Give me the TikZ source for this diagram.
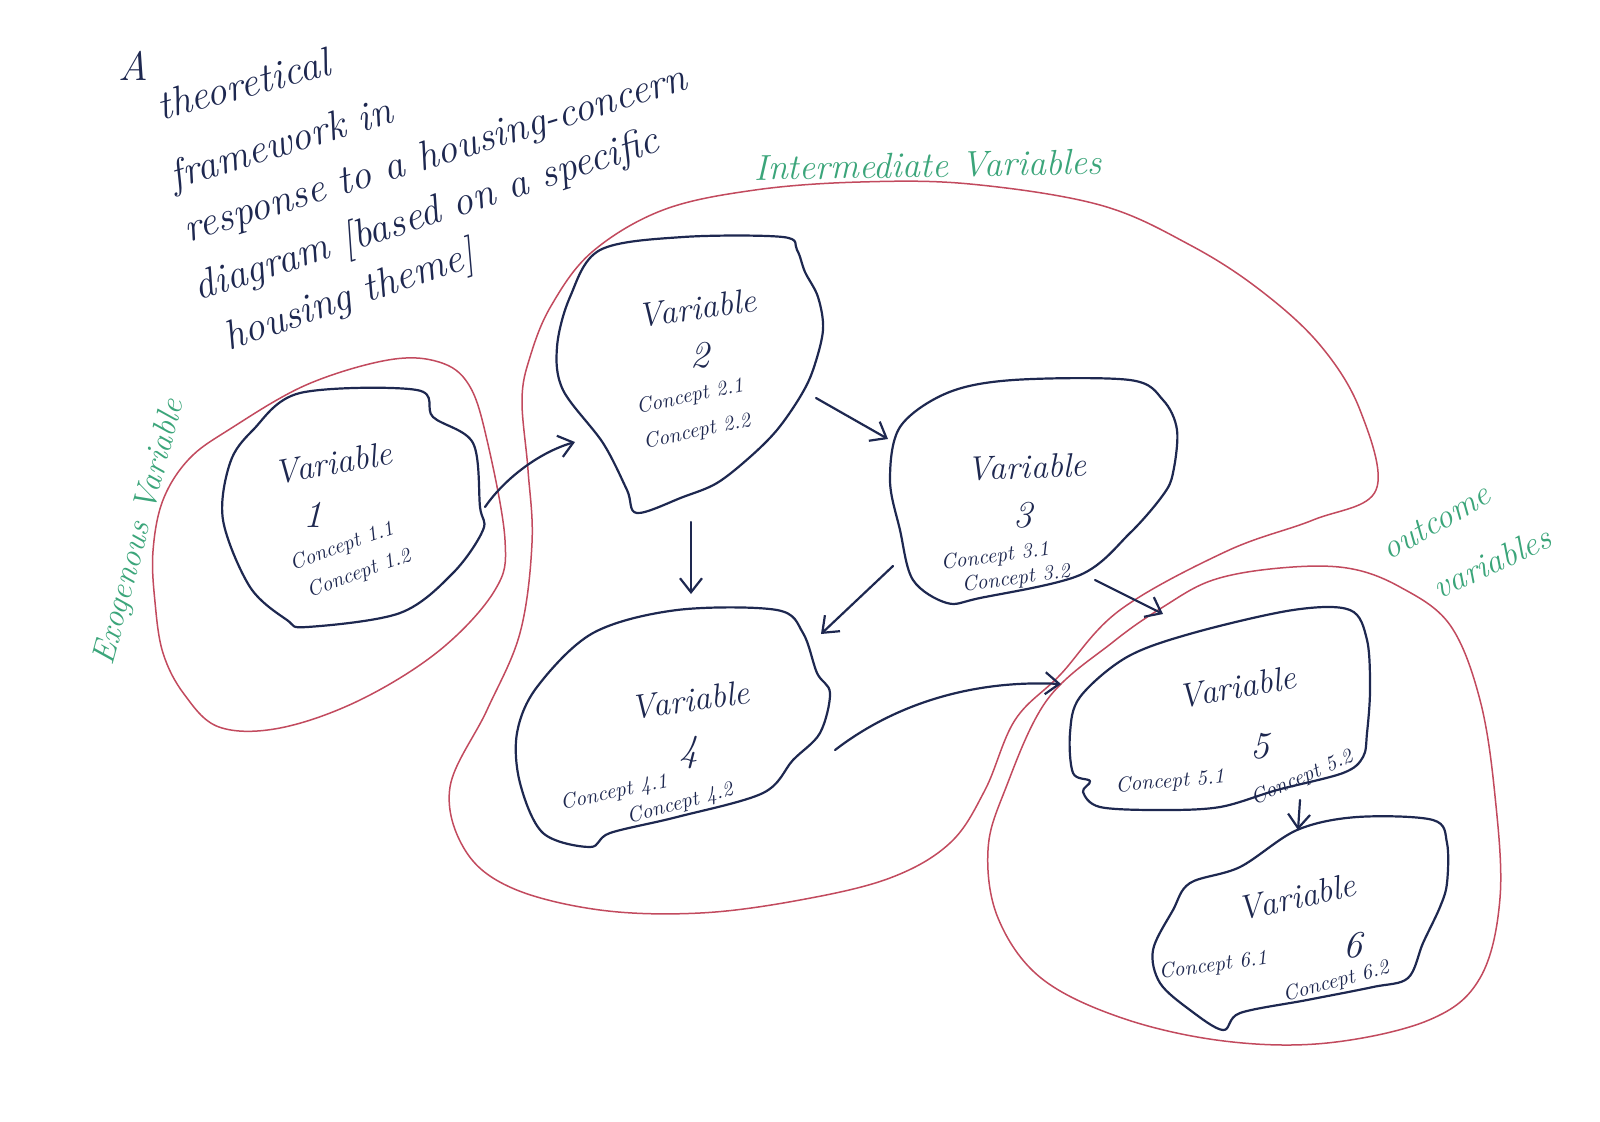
\documentclass[tikz,border=0pt]{standalone}
\usetikzlibrary{arrows.meta}
\definecolor{inkblue}{HTML}{1E2850}
\definecolor{redink}{HTML}{C24A5E}
\definecolor{greenink}{HTML}{3BA57A}
\begin{document}
\begin{tikzpicture}[x=0.5pt,y=-0.5pt,
  blob/.style={draw=inkblue, line width=1.1pt, line join=round},
  group/.style={draw=redink, line width=0.75pt, line join=round},
  arr/.style={draw=inkblue, line width=1.1pt, line cap=round, -{Straight Barb[length=7pt,width=11pt,line width=1.1pt]}},
  vname/.style={text=inkblue, font=\fontsize{17}{20}\selectfont\itshape, inner sep=0pt},
  vnum/.style={text=inkblue, font=\fontsize{19}{22}\selectfont\itshape, inner sep=0pt},
  vconc/.style={text=inkblue, font=\fontsize{10.5}{12}\selectfont\itshape, inner sep=0pt},
  ttl/.style={text=inkblue, font=\fontsize{20.5}{24}\selectfont\itshape, inner sep=0pt},
  grp/.style={text=greenink, font=\fontsize{18}{22}\selectfont\itshape, inner sep=0pt}
]
\useasboundingbox[fill=white] (0,0) rectangle (1600,1121);

% ---------- title ----------
\node[ttl] (tA) at (133,66) {A};
\node[ttl, rotate=15] (t1) at (243,84) {theoretical};
\node[ttl, rotate=17] (t2) at (282,146) {framework in};
\node[ttl, rotate=17] (t3) at (436,156) {response to a housing-concern};
\node[ttl, rotate=18] (t4) at (427,216) {diagram [based on a specific};
\node[ttl, rotate=19] (t5) at (350,298) {housing theme]};

% ---------- group outlines (red) ----------
\draw[group] plot[smooth cycle, tension=0.6] coordinates {
  (219,727) (184,694) (163,653) (155,602) (153,551) (163,500) (189,459)
  (230,429) (306,385) (388,360) (439,362) (469,385) (487,440) (505,540)
  (495,590) (440,650) (360,700) (280,728)};
\draw[group] plot[smooth cycle, tension=0.6] coordinates {
  (522,400) (528,470) (532,543) (520,633) (487,710) (450,787) (465,850)
  (512,888) (600,910) (700,913) (800,900) (890,878) (950,843) (985,790)
  (1015,720) (1060,675) (1120,610) (1227,551) (1313,520) (1376,490)
  (1360,410) (1320,345) (1260,290) (1190,245) (1100,205) (970,184)
  (860,182) (755,190) (663,210) (592,252) (551,306) (530,357)};
\draw[group] plot[smooth cycle, tension=0.6] coordinates {
  (1400,587) (1347,568) (1280,568) (1213,580) (1163,607) (1113,642)
  (1047,700) (1005,790) (988,850) (998,918) (1041,978) (1122,1018)
  (1224,1041) (1327,1043) (1429,1020) (1480,978) (1500,898) (1495,796)
  (1480,700) (1450,625)};

% ---------- group labels (green) ----------
\node[grp, rotate=1] (gI) at (928,165) {Intermediate Variables};
\node[grp, rotate=75, font=\fontsize{16.5}{20}\selectfont\itshape] (gE) at (140,532) {Exogenous Variable};
\node[grp, rotate=30, font=\fontsize{17}{20}\selectfont\itshape] (gO1) at (1436,522) {outcome};
\node[grp, rotate=25, font=\fontsize{17}{20}\selectfont\itshape] (gO2) at (1492,562) {variables};

% ---------- variable blobs (blue) ----------
% V1
\draw[blob] plot[smooth cycle, tension=0.55] coordinates {
  (300,393) (417,390) (433,417) (473,443) (480,507) (483,530) (453,573)
  (400,613) (307,627) (287,620) (250,587) (223,520) (230,463) (253,430)};
% V2
\draw[blob] plot[smooth cycle, tension=0.55] coordinates {
  (600,250) (683,237) (783,237) (797,250) (805,272) (818,297) (823,330)
  (813,370) (800,397) (777,430) (750,457) (717,483) (683,497) (637,513)
  (627,490) (603,443) (563,390) (557,347) (570,297)};
% V3
\draw[blob] plot[smooth cycle, tension=0.55] coordinates {
  (900,427) (947,393) (1013,380) (1130,380) (1163,400) (1177,430)
  (1173,473) (1163,495) (1130,533) (1080,575) (980,598) (947,603)
  (913,580) (900,530) (890,480)};
% V4
\draw[blob] plot[smooth cycle, tension=0.55] coordinates {
  (537,687) (593,633) (677,610) (777,610) (803,633) (817,673) (830,693)
  (820,733) (793,760) (763,793) (677,817) (610,833) (590,847) (543,833)
  (520,783) (517,733)};
% V5
\draw[blob] plot[smooth cycle, tension=0.55] coordinates {
  (1080,697) (1127,657) (1193,633) (1293,610) (1350,610) (1367,640)
  (1370,690) (1367,733) (1363,757) (1343,773) (1277,790) (1220,807)
  (1160,810) (1100,807) (1083,792) (1090,781) (1073,773) (1070,733)};
% V6
\draw[blob] plot[smooth cycle, tension=0.55] coordinates {
  (1297,830) (1357,817) (1433,820) (1447,843) (1447,883) (1440,907)
  (1423,943) (1408,978) (1373,987) (1307,1000) (1240,1013) (1223,1030)
  (1190,1010) (1160,983) (1153,950) (1173,910) (1190,883) (1240,867)};

% ---------- variable texts ----------
\node[vname, rotate=10] (v1a) at (333,463) {Variable};
\node[vnum] (v1b) at (313,515) {1};
\node[vconc, rotate=20] (v1c) at (342,547) {Concept 1.1};
\node[vconc, rotate=20] (v1d) at (359,574) {Concept 1.2};

\node[vname, rotate=8] (v2a) at (697,308) {Variable};
\node[vnum] (v2b) at (700,355) {2};
\node[vconc, rotate=12] (v2c) at (690,397) {Concept 2.1};
\node[vconc, rotate=12] (v2d) at (697,432) {Concept 2.2};

\node[vname, rotate=2] (v3a) at (1027,467) {Variable};
\node[vnum] (v3b) at (1023,515) {3};
\node[vconc, rotate=8] (v3c) at (995,557) {Concept 3.1};
\node[vconc, rotate=8] (v3d) at (1016,579) {Concept 3.2};

\node[vname, rotate=8] (v4a) at (690,700) {Variable};
\node[vnum] (v4b) at (689,753) {4};
\node[vconc, rotate=12] (v4c) at (614,793) {Concept 4.1};
\node[vconc, rotate=15] (v4d) at (680,804) {Concept 4.2};

\node[vname, rotate=10] (v5a) at (1237,687) {Variable};
\node[vnum] (v5b) at (1260,746) {5};
\node[vconc, rotate=5] (v5c) at (1170,782) {Concept 5.1};
\node[vconc, rotate=24] (v5d) at (1302,778) {Concept 5.2};

\node[vname, rotate=12] (v6a) at (1297,897) {Variable};
\node[vnum] (v6b) at (1353,945) {6};
\node[vconc, rotate=8] (v6c) at (1213,966) {Concept 6.1};
\node[vconc, rotate=15] (v6d) at (1336,982) {Concept 6.2};

% ---------- connector end points ----------
\coordinate (p12s) at (485,507);  \coordinate (p12e) at (575,442);
\coordinate (p23s) at (816,398);  \coordinate (p23e) at (888,439);
\coordinate (p24s) at (691,522);  \coordinate (p24e) at (691,594);
\coordinate (p34s) at (893,566);  \coordinate (p34e) at (821,634);
\coordinate (p35s) at (1095,580); \coordinate (p35e) at (1163,614);
\coordinate (p45s) at (835,750);  \coordinate (p45e) at (1061,684);
\coordinate (p56s) at (1300,800); \coordinate (p56e) at (1298,830);

% ---------- connectors ----------
\draw[arr] (p12s) .. controls (505,478) and (540,452) .. (p12e);
\draw[arr] (p23s) -- (p23e);
\draw[arr] (p24s) -- (p24e);
\draw[arr] (p34s) -- (p34e);
\draw[arr] (p35s) -- (p35e);
\draw[arr] (p45s) .. controls (900,700) and (980,680) .. (p45e);
\draw[arr] (p56s) -- (p56e);
\end{tikzpicture}
\end{document}
